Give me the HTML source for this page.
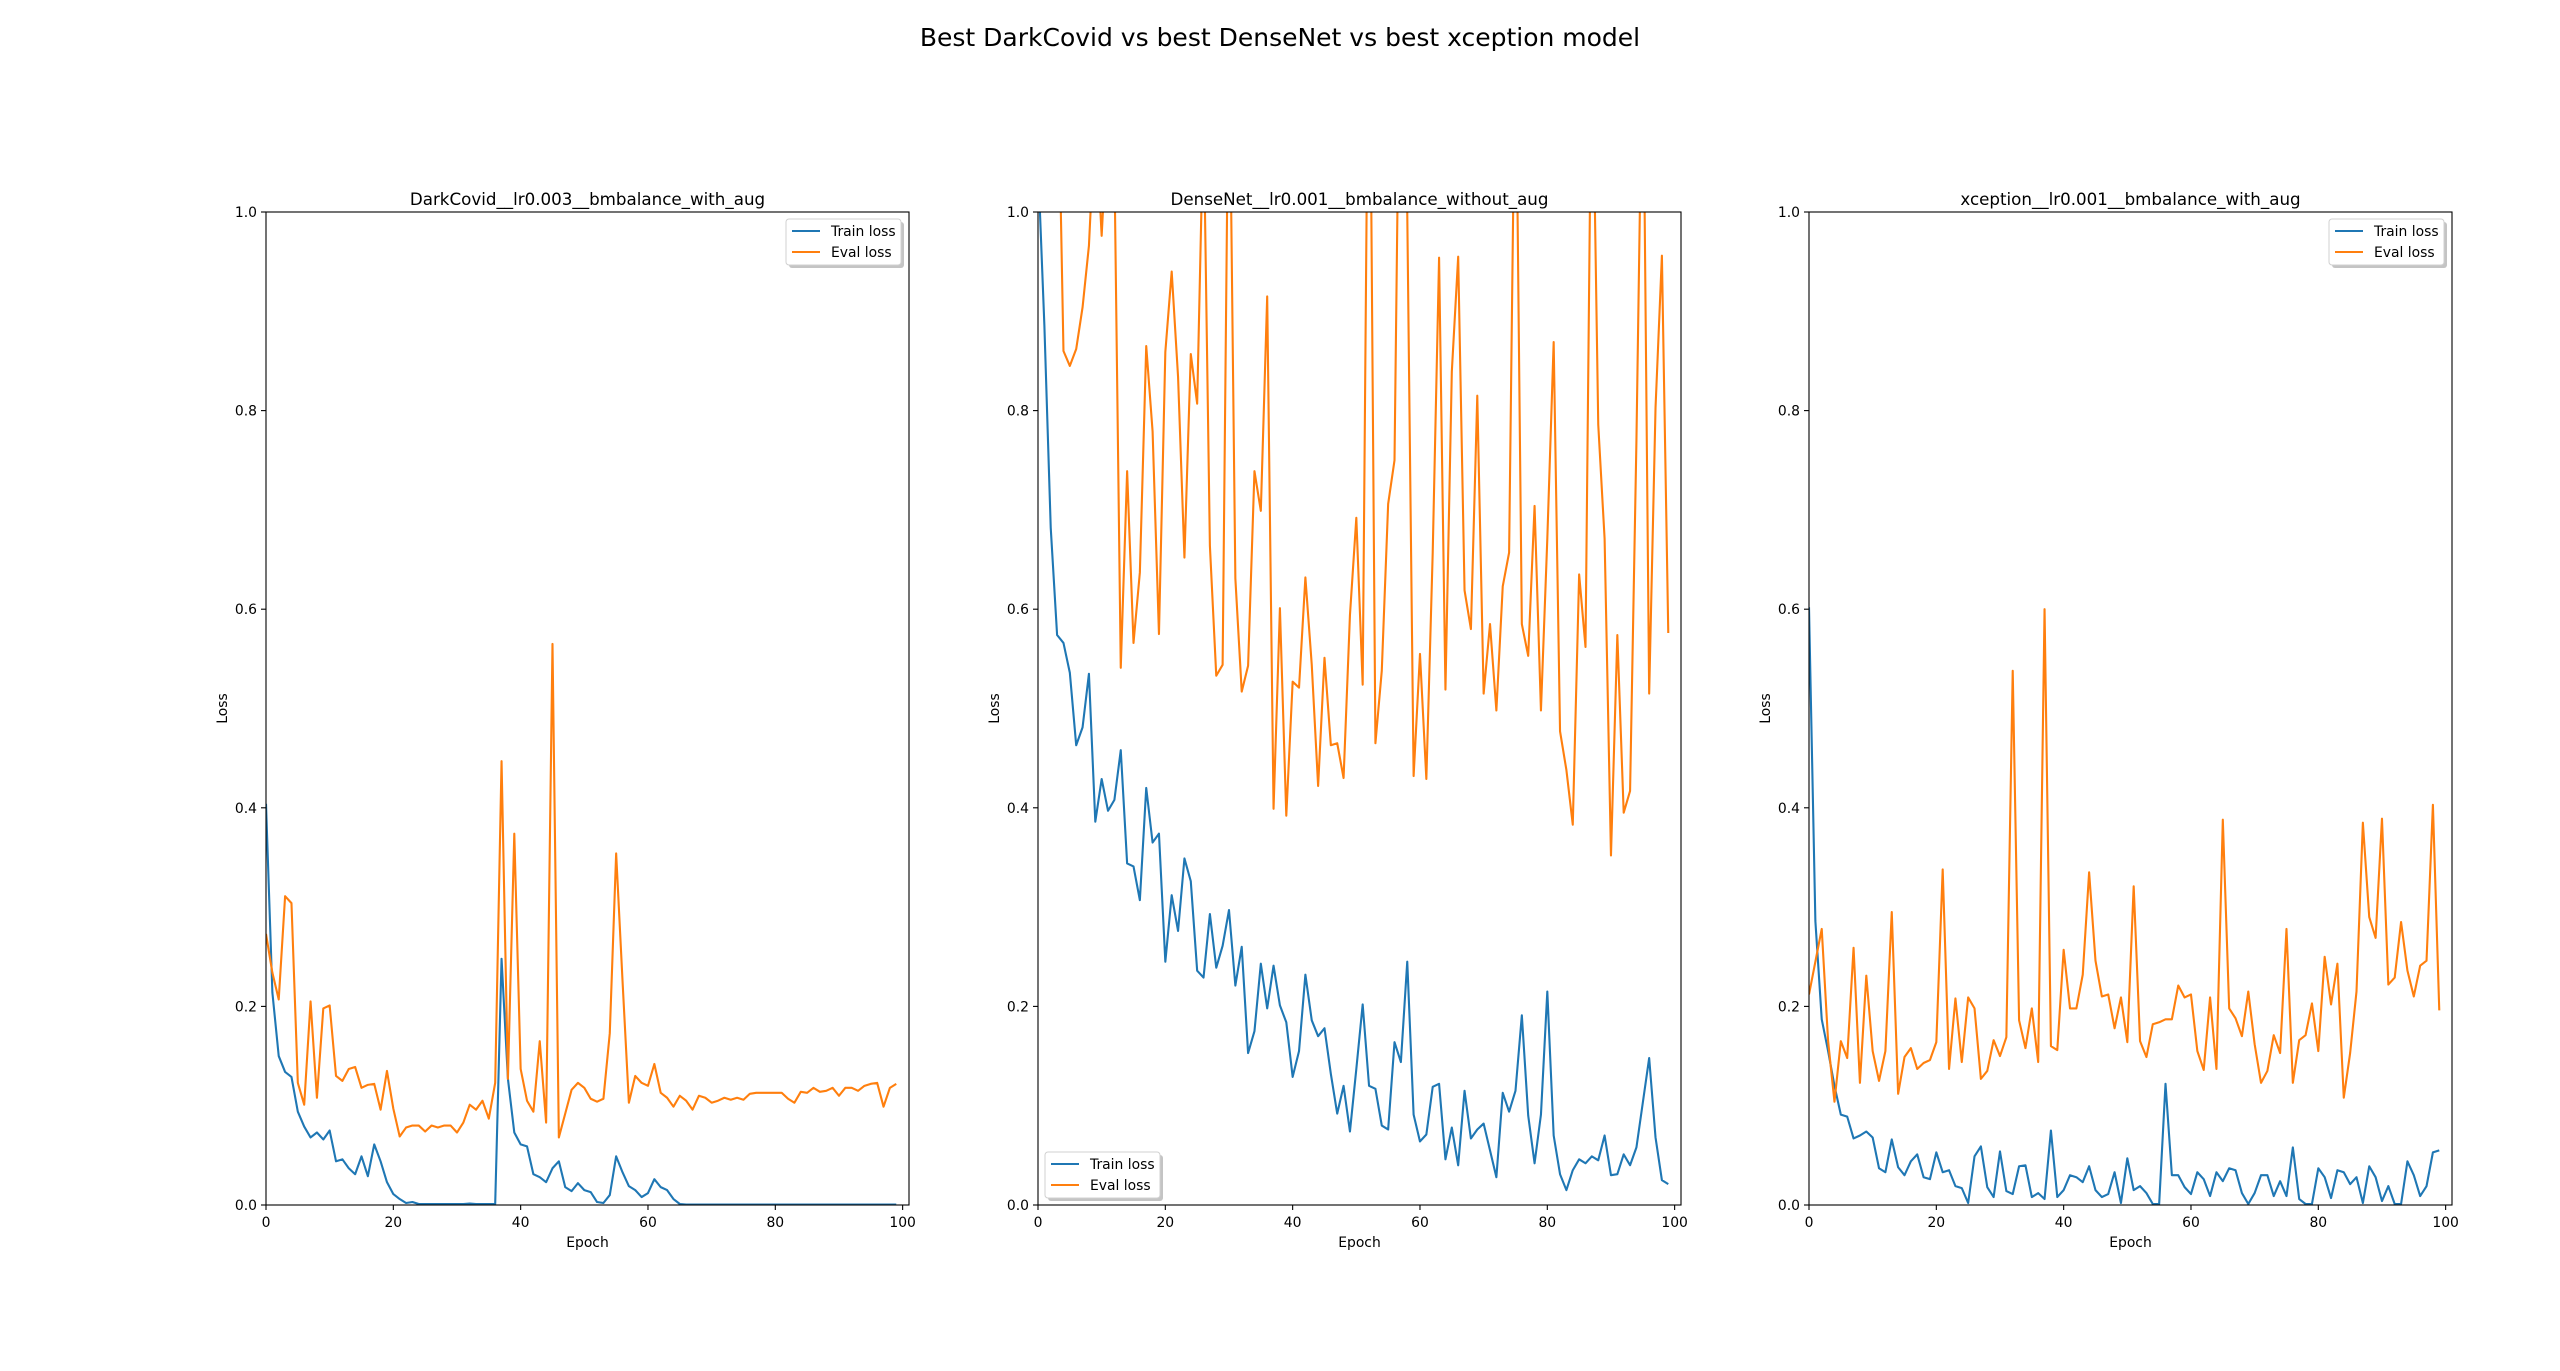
<!DOCTYPE html>
<html><head><meta charset="utf-8"><style>
html,body{margin:0;padding:0;background:#fff;}
svg{display:block;font-family:"DejaVu Sans","Liberation Sans",sans-serif;}
</style></head><body>
<svg id="fig" width="2560" height="1371" viewBox="0 0 2560 1371" xmlns="http://www.w3.org/2000/svg">
<rect width="2560" height="1371" fill="#fff"/>
<text x="1280" y="46" font-size="25" text-anchor="middle" fill="#000">Best DarkCovid vs best DenseNet vs best xception model</text>
</svg>
<script>
const epochs = Array.from({length:100},(_,i)=>i);
const xTicks = [0,20,40,60,80,100];
const yTicks = [0.0,0.2,0.4,0.6,0.8,1.0];
const titles = ["DarkCovid__lr0.003__bmbalance_with_aug","DenseNet__lr0.001__bmbalance_without_aug","xception__lr0.001__bmbalance_with_aug"];
const legendPos = ["upper-right","lower-left","upper-right"];

const darkTrain = [0.404,0.214,0.15,0.134,0.129,0.094,0.079,0.068,0.073,0.066,0.075,0.044,0.046,0.037,0.031,0.049,0.029,0.061,0.044,0.023,0.011,0.006,0.002,0.003,0.001,0.001,0.001,0.001,0.001,0.001,0.001,0.001,0.0015,0.001,0.001,0.001,0.001,0.248,0.127,0.073,0.061,0.059,0.031,0.028,0.023,0.037,0.044,0.018,0.014,0.022,0.015,0.013,0.003,0.002,0.01,0.049,0.033,0.019,0.015,0.008,0.012,0.026,0.018,0.015,0.006,0.001,0.0005,0.0005,0.0005,0.0005,0.0005,0.0005,0.0005,0.0005,0.0005,0.0005,0.0005,0.0005,0.0005,0.0005,0.0005,0.0005,0.0005,0.0005,0.0005,0.0005,0.0005,0.0005,0.0005,0.0005,0.0005,0.0005,0.0005,0.0005,0.0005,0.0005,0.0005,0.0005,0.0005,0.0005];
const darkEval = [0.273,0.234,0.207,0.311,0.304,0.123,0.101,0.205,0.108,0.198,0.201,0.130,0.125,0.137,0.139,0.118,0.121,0.122,0.096,0.135,0.097,0.069,0.078,0.080,0.080,0.074,0.080,0.078,0.080,0.080,0.073,0.083,0.101,0.096,0.105,0.087,0.123,0.447,0.127,0.374,0.137,0.105,0.094,0.165,0.083,0.565,0.068,0.092,0.116,0.123,0.118,0.107,0.104,0.107,0.173,0.354,0.226,0.103,0.130,0.123,0.120,0.142,0.113,0.108,0.099,0.110,0.105,0.096,0.110,0.108,0.103,0.105,0.108,0.106,0.108,0.106,0.112,0.113,0.113,0.113,0.113,0.113,0.107,0.103,0.114,0.113,0.118,0.114,0.115,0.118,0.110,0.118,0.118,0.115,0.120,0.122,0.123,0.099,0.118,0.122];
const denseTrain = [1.05,0.886,0.682,0.574,0.566,0.536,0.463,0.481,0.535,0.386,0.429,0.397,0.408,0.458,0.344,0.341,0.307,0.420,0.365,0.374,0.245,0.312,0.276,0.349,0.326,0.236,0.229,0.293,0.239,0.261,0.297,0.221,0.260,0.153,0.175,0.243,0.198,0.241,0.201,0.184,0.129,0.155,0.232,0.186,0.170,0.178,0.132,0.092,0.120,0.074,0.137,0.202,0.120,0.117,0.080,0.076,0.164,0.144,0.245,0.091,0.064,0.071,0.119,0.122,0.046,0.078,0.040,0.115,0.067,0.076,0.082,0.055,0.028,0.113,0.094,0.115,0.191,0.090,0.042,0.091,0.215,0.070,0.031,0.015,0.035,0.046,0.042,0.049,0.045,0.070,0.030,0.031,0.051,0.040,0.058,0.103,0.148,0.068,0.025,0.021];
const denseEval = [1.3,1.3,1.3,1.2,0.860,0.845,0.862,0.904,0.966,1.1,0.976,1.1,1.05,0.541,0.739,0.566,0.637,0.865,0.779,0.575,0.859,0.940,0.834,0.652,0.857,0.807,1.1,0.664,0.533,0.544,1.2,0.631,0.517,0.543,0.739,0.699,0.915,0.399,0.601,0.392,0.527,0.521,0.632,0.544,0.422,0.551,0.463,0.465,0.430,0.594,0.692,0.524,1.3,0.465,0.538,0.706,0.750,1.3,1.0,0.432,0.555,0.429,0.657,0.954,0.519,0.839,0.955,0.619,0.580,0.815,0.515,0.585,0.498,0.623,0.657,1.2,0.585,0.553,0.704,0.498,0.671,0.869,0.477,0.438,0.383,0.635,0.562,1.2,0.786,0.671,0.352,0.574,0.395,0.417,0.770,1.2,0.515,0.803,0.956,0.576];
const xcTrain = [0.602,0.286,0.187,0.155,0.120,0.091,0.089,0.067,0.070,0.074,0.068,0.037,0.033,0.066,0.038,0.030,0.044,0.051,0.028,0.026,0.053,0.033,0.035,0.019,0.017,0.002,0.049,0.059,0.018,0.008,0.054,0.014,0.011,0.039,0.040,0.008,0.012,0.006,0.075,0.008,0.015,0.030,0.028,0.023,0.039,0.015,0.008,0.011,0.033,0.002,0.047,0.015,0.019,0.012,0.001,0.001,0.122,0.030,0.030,0.018,0.011,0.033,0.026,0.009,0.033,0.024,0.037,0.035,0.012,0.001,0.012,0.030,0.030,0.009,0.024,0.009,0.058,0.006,0.001,0.001,0.037,0.028,0.007,0.035,0.033,0.021,0.028,0.002,0.039,0.028,0.004,0.019,0.001,0.001,0.044,0.030,0.009,0.019,0.053,0.055];
const xcEval = [0.212,0.245,0.278,0.165,0.104,0.165,0.148,0.259,0.123,0.231,0.155,0.125,0.155,0.295,0.112,0.149,0.158,0.137,0.143,0.146,0.164,0.338,0.137,0.208,0.144,0.209,0.198,0.127,0.135,0.166,0.150,0.169,0.538,0.186,0.158,0.198,0.144,0.600,0.160,0.156,0.257,0.198,0.198,0.232,0.335,0.246,0.210,0.212,0.178,0.209,0.164,0.321,0.165,0.149,0.182,0.184,0.187,0.187,0.221,0.209,0.212,0.155,0.136,0.209,0.137,0.388,0.198,0.188,0.170,0.215,0.162,0.123,0.135,0.171,0.153,0.278,0.123,0.166,0.171,0.203,0.155,0.250,0.202,0.243,0.108,0.153,0.215,0.385,0.290,0.269,0.389,0.222,0.229,0.285,0.236,0.210,0.241,0.246,0.403,0.196];

const trainSeries = [darkTrain, denseTrain, xcTrain];
const evalSeries = [darkEval, denseEval, xcEval];

const NS = "http://www.w3.org/2000/svg";
const svg = document.getElementById('fig');
const AX_W = 643, AX_H = 993, AX_TOP = 212, AX_LEFTS = [266, 1038, 1809];
const XMIN = 0, XMAX = 101, YMIN = 0, YMAX = 1;
function mk(tag, attrs, parent){const e=document.createElementNS(NS,tag);for(const k in attrs)e.setAttribute(k,attrs[k]);(parent||svg).appendChild(e);return e;}
const defs = mk('defs',{});

for (let p=0;p<3;p++){
  const L = AX_LEFTS[p];
  const xs = v => L + (v-XMIN)/(XMAX-XMIN)*AX_W;
  const ys = v => AX_TOP + AX_H - (v-YMIN)/(YMAX-YMIN)*AX_H;
  const g = mk('g',{});
  
  
  const cp = mk('clipPath',{id:'clip'+p},defs);
  mk('rect',{x:L,y:AX_TOP,width:AX_W,height:AX_H},cp);
  const t = mk('text',{x:L+AX_W/2,y:AX_TOP-7,'font-size':16.7,'text-anchor':'middle',fill:'#000'},g);
  t.textContent = titles[p];
  
  
  const mkPath = (arr,color,name)=>{
    const d = arr.map((v,i)=>(i?'L':'M')+xs(epochs[i]).toFixed(2)+','+ys(v).toFixed(2)).join('');
    const path = mk('path',{d:d,fill:'none',stroke:color,'stroke-width':2.1,'stroke-linejoin':'round','clip-path':'url(#clip'+p+')'},g);
    
    
  };
  mkPath(trainSeries[p],'#1f77b4','train-loss-line');
  mkPath(evalSeries[p],'#ff7f0e','eval-loss-line');
  const frame = mk('rect',{x:L,y:AX_TOP,width:AX_W,height:AX_H,fill:'none',stroke:'#000','stroke-width':1.1},g);
  
  
  xTicks.forEach(v=>{
    const x = xs(v);
    mk('line',{x1:x,x2:x,y1:AX_TOP+AX_H,y2:AX_TOP+AX_H+5,stroke:'#000','stroke-width':1.1},g);
    const tl = mk('text',{x:x,y:AX_TOP+AX_H+22,'font-size':13.9,'text-anchor':'middle',fill:'#000'},g);
    tl.textContent = String(v);
    
    
  });
  yTicks.forEach(v=>{
    const y = ys(v);
    mk('line',{x1:L-5,x2:L,y1:y,y2:y,stroke:'#000','stroke-width':1.1},g);
    const tl = mk('text',{x:L-9,y:y+5,'font-size':13.9,'text-anchor':'end',fill:'#000'},g);
    tl.textContent = v.toFixed(1);
    
    
  });
  const xl = mk('text',{x:L+AX_W/2,y:AX_TOP+AX_H+42,'font-size':13.9,'text-anchor':'middle',fill:'#000'},g);
  xl.textContent = 'Epoch';
  
  
  const yx = L-39, yy = AX_TOP+AX_H/2;
  const yl = mk('text',{x:yx,y:yy,'font-size':13.9,'text-anchor':'middle',fill:'#000',transform:'rotate(-90 '+yx+' '+yy+')'},g);
  yl.textContent = 'Loss';
  
  
  let lx, ly; const lw=115, lh=46;
  if (legendPos[p]==='upper-right'){ lx = L+AX_W-8-lw; ly = AX_TOP+7; } else { lx = L+7; ly = AX_TOP+AX_H-7-lh; }
  const lg = mk('g',{},g);
  
  
  mk('rect',{x:lx+3,y:ly+3,width:lw,height:lh,rx:3,fill:'#8a8a8a','fill-opacity':0.5},lg);
  mk('rect',{x:lx,y:ly,width:lw,height:lh,rx:3,fill:'#fff',stroke:'#d0d0d0','stroke-width':1},lg);
  [['Train loss','#1f77b4'],['Eval loss','#ff7f0e']].forEach((e,i)=>{
    const cy = ly+12+i*21;
    const ent = mk('g',{},lg);
    
    
    mk('line',{x1:lx+6,x2:lx+34,y1:cy,y2:cy,stroke:e[1],'stroke-width':2.1},ent);
    const tx = mk('text',{x:lx+45,y:cy+5,'font-size':13.9,fill:'#000'},ent);
    tx.textContent = e[0];
  });
}
</script>
</body></html>
